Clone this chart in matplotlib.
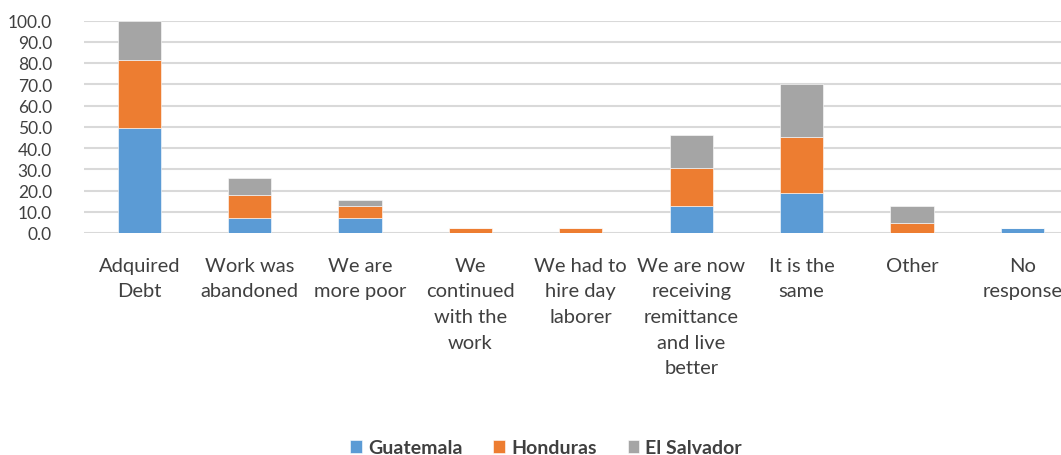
import matplotlib
matplotlib.use("Agg")
import matplotlib.pyplot as plt
import numpy as np

categories = [
    "Adquired\nDebt",
    "Work was\nabandoned",
    "We are\nmore poor",
    "We\ncontinued\nwith the\nwork",
    "We had to\nhire day\nlaborer",
    "We are now\nreceiving\nremittance\nand live\nbetter",
    "It is the\nsame",
    "Other",
    "No\nresponse",
]
guatemala = [49.5, 7.0, 7.0, 0.0, 0.0, 12.9, 19.0, 0.0, 2.4]
honduras = [32.1, 11.0, 5.9, 2.4, 2.4, 17.6, 26.0, 4.8, 0.0]
el_salvador = [18.4, 7.8, 2.7, 0.0, 0.0, 15.5, 25.3, 8.1, 0.0]
series_names = ["Guatemala", "Honduras", "El Salvador"]
y_ticks = [0, 10, 20, 30, 40, 50, 60, 70, 80, 90, 100]

colors = ["#5B9BD5", "#ED7D31", "#A5A5A5"]
text_color = "#404040"
plt.rcParams["font.family"] = ["Lato", "DejaVu Sans"]

fig = plt.figure(figsize=(10.61, 4.56), dpi=100)
ax = fig.add_axes([84 / 1061, 1 - 234 / 456, 993.6 / 1061, 212.5 / 456])

x = np.arange(len(categories))
bottom = np.zeros(len(categories))
handles = []
for name, vals, c in zip(series_names, [guatemala, honduras, el_salvador], colors):
    vals = np.array(vals)
    h = ax.bar(x, vals, width=0.39, bottom=bottom, color=c, label=name,
               edgecolor="white", linewidth=0.4, zorder=3)
    handles.append(h)
    bottom += vals

ax.set_xlim(-0.5, len(categories) - 0.5)
ax.set_ylim(0, 100)
ax.set_yticks(y_ticks)
ax.set_yticklabels([f"{v:.1f}" for v in y_ticks], fontsize=12.5)
ax.set_xticks(x)
ax.set_xticklabels(categories, linespacing=1.62, fontsize=14.5)
ax.tick_params(axis="both", length=0, colors=text_color)
ax.tick_params(axis="y", pad=23)
ax.tick_params(axis="x", pad=17)
for lbl in ax.get_xticklabels():
    lbl.set_verticalalignment("top")
ax.grid(axis="y", color="#D9D9D9", linewidth=1.5, zorder=0)
for s in ax.spines.values():
    s.set_visible(False)

fig.legend(handles=handles, labels=series_names, loc="center",
           bbox_to_anchor=(546 / 1061, 1 - 449 / 456), ncol=3, frameon=False,
           prop={"size": 14, "weight": "bold"}, handlelength=0.6, handleheight=0.6,
           handletextpad=0.3, columnspacing=1.6, labelcolor=text_color)

fig.savefig("out.png", dpi=100)
